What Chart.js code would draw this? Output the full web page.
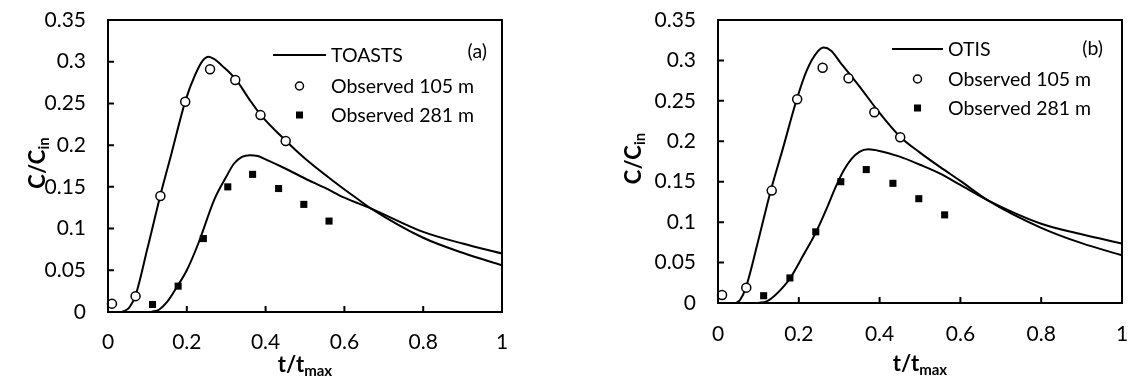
<!DOCTYPE html>
<html>
<head>
<meta charset="utf-8">
<script src="https://cdn.jsdelivr.net/npm/chart.js@4.4.1/dist/chart.umd.min.js"></script>
<style>
  body { margin: 0; background: #fff; }
  #wrap { position: relative; width: 1128px; height: 385px; }
  canvas { position: absolute; top: 0; }
  #chartA { left: 0; }
  #chartB { left: 560px; }
</style>
</head>
<body>
<div id="wrap">
  <canvas id="chartA" width="560" height="385"></canvas>
  <canvas id="chartB" width="568" height="385"></canvas>
</div>
<script>
// axis tick labels
const xTickLabels = ['0', '0.2', '0.4', '0.6', '0.8', '1'];
const yTickLabels = ['0', '0.05', '0.1', '0.15', '0.2', '0.25', '0.3', '0.35'];

// observed concentrations (same in both panels)
const obs105T = [0.01, 0.07, 0.133, 0.196, 0.259, 0.323, 0.387, 0.451];
const obs105C = [0.01, 0.019, 0.139, 0.252, 0.291, 0.278, 0.236, 0.205];
const obs281T = [0.113, 0.178, 0.242, 0.304, 0.367, 0.433, 0.497, 0.561];
const obs281C = [0.009, 0.031, 0.088, 0.150, 0.165, 0.148, 0.129, 0.109];

// TOASTS simulation
const toasts105T = [0.035, 0.045, 0.055, 0.07, 0.1, 0.133, 0.16, 0.197, 0.22, 0.24, 0.255, 0.27, 0.29, 0.324, 0.36, 0.388, 0.452, 0.5, 0.569, 0.632, 0.668, 0.8, 0.9, 1];
const toasts105C = [0, 0.002, 0.006, 0.02, 0.076, 0.14, 0.188, 0.254, 0.283, 0.301, 0.306, 0.303, 0.295, 0.279, 0.254, 0.236, 0.205, 0.184, 0.158, 0.136, 0.124, 0.089, 0.071, 0.056];
const toasts281T = [0.11, 0.13, 0.15, 0.175, 0.2, 0.23, 0.27, 0.3, 0.32, 0.34, 0.36, 0.38, 0.4, 0.45, 0.5, 0.55, 0.6, 0.668, 0.8, 0.9, 1];
const toasts281C = [0, 0.003, 0.012, 0.03, 0.05, 0.083, 0.135, 0.162, 0.178, 0.186, 0.188, 0.187, 0.183, 0.172, 0.16, 0.149, 0.137, 0.124, 0.096, 0.082, 0.07];

// OTIS simulation
const otis105T = [0.045, 0.055, 0.069, 0.1, 0.13, 0.16, 0.195, 0.22, 0.245, 0.262, 0.28, 0.302, 0.35, 0.4, 0.45, 0.5, 0.55, 0.6, 0.668, 0.8, 0.9, 1];
const otis105C = [0, 0.004, 0.019, 0.078, 0.138, 0.19, 0.252, 0.288, 0.31, 0.316, 0.312, 0.298, 0.268, 0.235, 0.206, 0.186, 0.168, 0.151, 0.127, 0.093, 0.074, 0.059];
const otis281T = [0.1, 0.12, 0.14, 0.16, 0.179, 0.21, 0.243, 0.27, 0.29, 0.31, 0.33, 0.35, 0.372, 0.4, 0.45, 0.5, 0.55, 0.6, 0.668, 0.8, 0.9, 1];
const otis281C = [0, 0.002, 0.009, 0.019, 0.031, 0.058, 0.088, 0.118, 0.142, 0.163, 0.178, 0.187, 0.19, 0.188, 0.181, 0.171, 0.16, 0.146, 0.127, 0.098, 0.085, 0.0735];

const FONT = 'Lato, "Open Sans", sans-serif';

function pts(ts, cs) {
  return ts.map((t, i) => ({ x: t, y: cs[i] }));
}

function curve(ts, cs) {
  return {
    data: pts(ts, cs),
    borderColor: '#000',
    borderWidth: 2,
    pointRadius: 0,
    cubicInterpolationMode: 'monotone',
    fill: false
  };
}

// text with a bold subscript, e.g. C/C + in
function subText(ctx, x, y, main, sub, angle) {
  ctx.save();
  ctx.translate(x, y);
  ctx.rotate(angle);
  ctx.fillStyle = '#000';
  ctx.textBaseline = 'alphabetic';
  ctx.font = 'bold 22px ' + FONT;
  const w1 = ctx.measureText(main).width;
  ctx.font = 'bold 15px ' + FONT;
  const w2 = ctx.measureText(sub).width;
  const start = -(w1 + w2) / 2;
  ctx.font = 'bold 22px ' + FONT;
  ctx.fillText(main, start, 8);
  ctx.font = 'bold 15px ' + FONT;
  ctx.fillText(sub, start + w1, 12);
  ctx.restore();
}

// plot frame, inside tick marks, axis titles and legend
const panelDecor = {
  id: 'panelDecor',
  afterDatasetsDraw(chart, args, o) {
    const { ctx, chartArea: a, scales: { x, y } } = chart;
    ctx.save();
    ctx.strokeStyle = '#000';
    ctx.lineWidth = 2;
    ctx.strokeRect(a.left, a.top, a.right - a.left, a.bottom - a.top);
    ctx.beginPath();
    x.ticks.forEach(t => {
      const px = x.getPixelForValue(t.value);
      ctx.moveTo(px, a.bottom);
      ctx.lineTo(px, a.bottom - 6);
    });
    y.ticks.forEach(t => {
      const py = y.getPixelForValue(t.value);
      ctx.moveTo(a.left, py);
      ctx.lineTo(a.left + 6, py);
    });
    ctx.stroke();

    subText(ctx, (a.left + a.right) / 2, a.bottom + o.xTitleGap, 't/t', 'max', 0);
    subText(ctx, a.left - o.yTitleGap, (a.top + a.bottom) / 2 - 3, 'C/C', 'in', -Math.PI / 2);

    // legend
    const lx = a.left + o.legX;
    const tx = lx + o.lineLen + 5;
    const mx = lx + o.lineLen / 2;
    ctx.font = '19.5px ' + FONT;
    ctx.fillStyle = '#000';
    ctx.textBaseline = 'middle';
    ctx.textAlign = 'left';
    ctx.beginPath();
    ctx.moveTo(lx, a.top + o.rows[0]);
    ctx.lineTo(lx + o.lineLen, a.top + o.rows[0]);
    ctx.stroke();
    ctx.fillText(o.model, tx, a.top + o.rows[0] + 1);

    ctx.lineWidth = 1.5;
    ctx.fillStyle = '#fff';
    ctx.beginPath();
    ctx.arc(mx, a.top + o.rows[1], 4, 0, Math.PI * 2);
    ctx.fill();
    ctx.stroke();
    ctx.fillStyle = '#000';
    ctx.fillText('Observed 105 m', tx, a.top + o.rows[1] + 1);

    ctx.fillRect(mx - 3.5, a.top + o.rows[2] - 3.5, 7, 7);
    ctx.fillText('Observed 281 m', tx, a.top + o.rows[2] + 1);

    ctx.textAlign = 'right';
    ctx.fillText(o.tag, a.right - o.tagRight, a.top + o.tagY);
    ctx.restore();
  }
};

function makeChart(id, model105, model281, box, decor) {
  new Chart(document.getElementById(id), {
    type: 'line',
    data: {
      datasets: [
        {
          data: pts(obs105T, obs105C),
          showLine: false,
          pointStyle: 'circle',
          pointRadius: 4.5,
          borderWidth: 1.5,
          borderColor: '#000',
          backgroundColor: '#fff',
          clip: false
        },
        {
          data: pts(obs281T, obs281C),
          showLine: false,
          pointStyle: 'rect',
          pointRadius: 5,
          borderWidth: 0,
          backgroundColor: '#000',
          clip: false
        },
        model105,
        model281
      ]
    },
    options: {
      responsive: false,
      animation: false,
      devicePixelRatio: 1,
      layout: { autoPadding: false, padding: { top: 20, right: box.right, left: 0, bottom: 0 } },
      plugins: {
        legend: { display: false },
        tooltip: { enabled: false },
        panelDecor: decor
      },
      scales: {
        x: {
          type: 'linear',
          min: 0,
          max: 1,
          // fixed axis box, no extra room for the end labels
          afterFit: s => { s.height = box.xh; s.paddingLeft = 0; s.paddingRight = 0; },
          grid: { display: false, drawTicks: false },
          border: { display: false },
          ticks: {
            stepSize: 0.2,
            autoSkip: false,
            maxRotation: 0,
            padding: box.xpad,
            color: '#000',
            font: { family: FONT, size: 21 },
            callback: (v, i) => xTickLabels[i]
          }
        },
        y: {
          min: 0,
          max: 0.35,
          afterFit: s => { s.width = box.yw; s.paddingTop = 0; s.paddingBottom = 0; },
          grid: { display: false, drawTicks: false },
          border: { display: false },
          ticks: {
            stepSize: 0.05,
            padding: 22,
            color: '#000',
            font: { family: FONT, size: 21 },
            callback: (v, i) => yTickLabels[i]
          }
        }
      }
    },
    plugins: [panelDecor]
  });
}

makeChart('chartA',
  curve(toasts105T, toasts105C), curve(toasts281T, toasts281C),
  { right: 58, xh: 73, yw: 108, xpad: 18 },
  { model: 'TOASTS', tag: '(a)', legX: 165, lineLen: 53, rows: [35, 66, 95], tagRight: 15, tagY: 32, xTitleGap: 52, yTitleGap: 71 });

makeChart('chartB',
  curve(otis105T, otis105C), curve(otis281T, otis281C),
  { right: 6, xh: 82, yw: 158, xpad: 19 },
  { model: 'OTIS', tag: '(b)', legX: 174, lineLen: 51, rows: [29, 59, 88], tagRight: 19, tagY: 29, xTitleGap: 60, yTitleGap: 85 });
</script>
</body>
</html>
